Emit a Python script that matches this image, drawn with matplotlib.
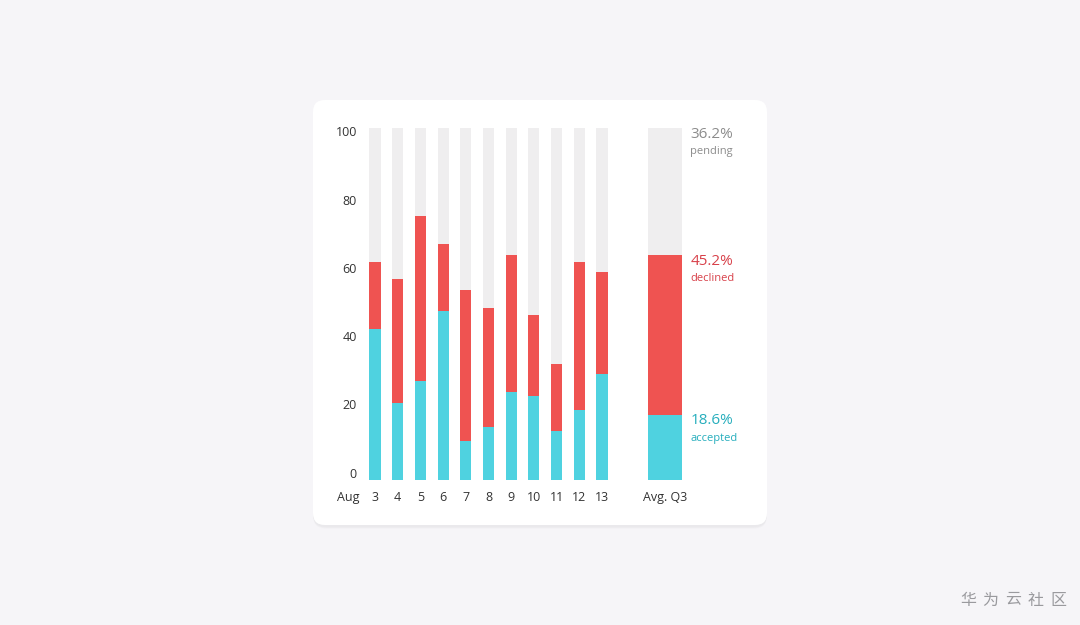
import numpy as np
import matplotlib.pyplot as plt
from matplotlib.patches import FancyBboxPatch

# datos
days = ['3', '4', '5', '6', '7', '8', '9', '10', '11', '12', '13']
accepted = [43, 22, 28, 48, 11, 15, 25, 24, 14, 20, 30]
declined = [19, 35, 47, 19, 43, 34, 39, 23, 19, 42, 29]
avg_label = 'Avg. Q3'
avg_vals = [18.6, 45.2, 36.2]  # accepted, declined, pending
avg_names = ['accepted', 'declined', 'pending']
yticks = [0, 20, 40, 60, 80, 100]
marca = '华为云社区'

c_acc = '#4fd2e0'
c_dec = '#ef5351'
c_pen = '#efeeef'
t_acc = '#27aebd'
t_dec = '#d8414a'
t_pen = '#8c8c8c'

fig = plt.figure(figsize=(10.8, 6.25), dpi=100)
fig.patch.set_facecolor('#f6f5f8')

W, H = 1080, 625
# tarjeta blanca con sombra
for k in range(6):
    sh = FancyBboxPatch((313 / W, 1 - 527 / H - k * 0.0006), 454 / W, 425 / H,
                        boxstyle='round,pad=0,rounding_size=0.012',
                        transform=fig.transFigure, facecolor='#000000',
                        alpha=0.006, edgecolor='none',
                        mutation_aspect=W / H, zorder=-2)
    fig.patches.append(sh)
card = FancyBboxPatch((313 / W, 1 - 525 / H), 454 / W, 425 / H,
                      boxstyle='round,pad=0,rounding_size=0.011',
                      transform=fig.transFigure, facecolor='white',
                      edgecolor='none', mutation_aspect=W / H, zorder=-1)
fig.patches.append(card)

step = 22.7
x0 = 375
left, right = 330, 760
ax = fig.add_axes([left / W, 1 - 480 / H, (right - left) / W, 352 / H])
ax.set_zorder(2)
ax.set_xlim((left - x0) / step, (right - x0) / step)
ax.set_ylim(0, 100)
ax.axis('off')

x = np.arange(len(days))
acc = np.array(accepted)
dec = np.array(declined)
pen = 100 - acc - dec
bw = 0.49
ax.bar(x, acc, width=bw, color=c_acc, linewidth=0)
ax.bar(x, dec, width=bw, bottom=acc, color=c_dec, linewidth=0)
ax.bar(x, pen, width=bw, bottom=acc + dec, color=c_pen, linewidth=0)

xa = (665 - x0) / step
aw = 1.5
b = 0
cols = [c_acc, c_dec, c_pen]
tcols = [t_acc, t_dec, t_pen]
for v, c, tc, name in zip(avg_vals, cols, tcols, avg_names):
    ax.bar(xa, v, width=aw, bottom=b, color=c, linewidth=0)
    top = b + v
    ax.annotate('%.1f%%' % v, (xa + aw / 2, top), xytext=(6, 1),
                textcoords='offset points', ha='left', va='top',
                fontsize=11, color=tc, family='Open Sans')
    ax.annotate(name, (xa + aw / 2, top), xytext=(6, -13),
                textcoords='offset points', ha='left', va='top',
                fontsize=8, color=tc, family='Open Sans')
    b = top

# ejes (etiquetas un poco metidas hacia dentro, como en el original)
for t in yticks:
    ax.text((357 - x0) / step, (6 + t * 3.41) / 3.52, str(t), ha='right',
            va='center', fontsize=9, color='#333333', family='Open Sans')
for i, d in enumerate(days):
    ax.text(i, -5, d, ha='center', va='center', fontsize=9,
            color='#333333', family='Open Sans')
ax.text((348 - x0) / step, -5, 'Aug', ha='center', va='center',
        fontsize=9, color='#333333', family='Open Sans')
ax.text(xa, -5, avg_label, ha='center', va='center', fontsize=9,
        color='#333333', family='Open Sans')

for i, ch in enumerate(marca):
    fig.text((968 + i * 22.6) / W, 1 - 600 / H, ch, ha='center', va='center',
             fontsize=11.5, color='#9a9a9e',
             family=['Noto Sans CJK SC', 'DejaVu Sans'])

plt.savefig('out.png', dpi=100, facecolor=fig.get_facecolor())
